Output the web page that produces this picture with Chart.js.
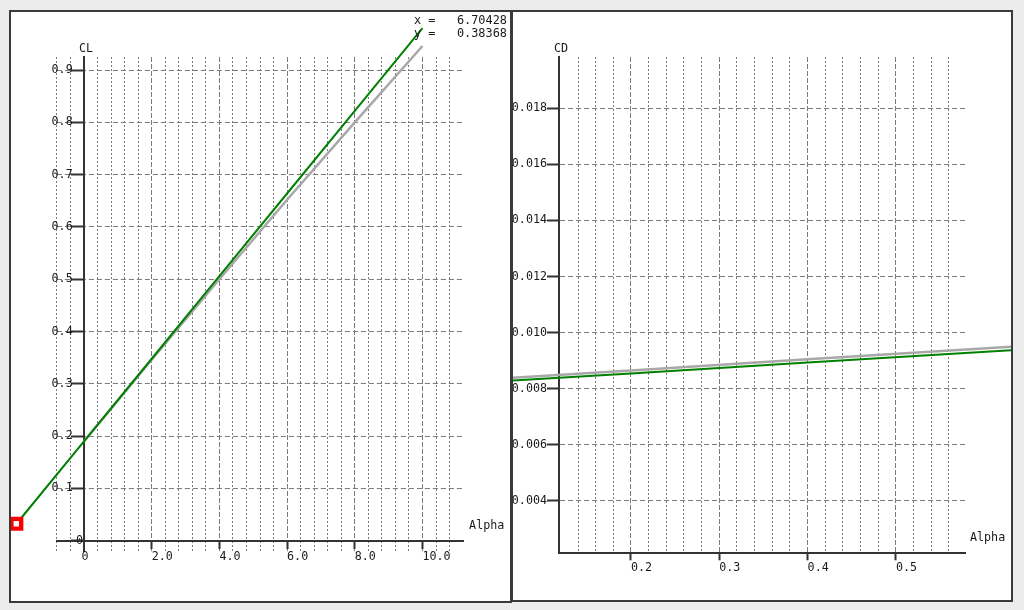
<!DOCTYPE html>
<html><head><meta charset="utf-8">
<script src="https://cdn.jsdelivr.net/npm/chart.js@4"></script>
<style>
html,body{margin:0;padding:0;background:#ececec;width:1024px;height:610px;overflow:hidden;}
.panel{position:absolute;box-sizing:border-box;border:2px solid #3a3a3a;background:#fff;overflow:hidden;}
#lp{left:9px;top:10px;width:503px;height:593px;}
#rp{left:511px;top:10px;width:502px;height:592px;}
canvas{position:absolute;left:0;top:0;}
</style></head><body>
<div class="panel" id="lp"><canvas id="cl" width="499" height="589"></canvas></div>
<div class="panel" id="rp"><canvas id="cd" width="498" height="588"></canvas></div>
<script>
// ---- data ----
const clAlpha   = [-2, 0, 2, 4, 6, 8, 10];
const clGreen   = [0.032, 0.19, 0.348, 0.506, 0.664, 0.822, 0.98];
const clAlphaB  = [0, 2, 4, 6, 8, 10];
const clGray    = [0.19, 0.346, 0.500, 0.652, 0.800, 0.946];
const markAlpha = [-2];
const markCL    = [0.0325];
const cdAlpha   = [0, 0.2, 0.4, 0.65];
const cdGreen   = [0.00816, 0.00854, 0.00893, 0.00941];
const cdGray    = [0.00826, 0.00865, 0.00905, 0.00953];
const clXMajor  = [0, 2, 4, 6, 8, 10];
const clXLabels = ['0', '2.0', '4.0', '6.0', '8.0', '10.0'];
const clYTicks  = [0, 0.1, 0.2, 0.3, 0.4, 0.5, 0.6, 0.7, 0.8, 0.9];
const clYLabels = ['0', '0.1', '0.2', '0.3', '0.4', '0.5', '0.6', '0.7', '0.8', '0.9'];
const cdXMajor  = [0.2, 0.3, 0.4, 0.5];
const cdXLabels = ['0.2', '0.3', '0.4', '0.5'];
const cdYTicks  = [0.004, 0.006, 0.008, 0.010, 0.012, 0.014, 0.016, 0.018];
const cdYLabels = ['0.004', '0.006', '0.008', '0.010', '0.012', '0.014', '0.016', '0.018'];
const readout   = ['x =   6.70428', 'y =   0.38368'];
const titles    = {clY: 'CL', cdY: 'CD', x: 'Alpha'};

// ---- style ----
const FONT = {family: 'DejaVu Sans Mono', size: 11.7};
const TXT = '#1a1a1a', AXIS = '#333333', GRID = '#7a7a7a', NONE = 'rgba(0,0,0,0)';
const GREEN = '#008000', GRAY = '#a8a8a8';
const idx = (v, arr, eps) => (v === null || v === undefined) ? -1 : arr.findIndex(a => Math.abs(a - v) < eps);
const tv = (c) => (c && c.tick) ? c.tick.value : null;
const pts = (xs, ys) => xs.map((a, i) => ({x: a, y: ys[i]}));

const overlayL = {
  id: 'overlayL',
  beforeDatasetsDraw(chart) {
    const {ctx, chartArea, scales: {x, y}} = chart;
    const x0 = x.getPixelForValue(0), y0 = y.getPixelForValue(0);
    ctx.save();
    ctx.font = '11.7px "DejaVu Sans Mono"';
    ctx.fillStyle = TXT;
    ctx.textBaseline = 'middle';
    ctx.textAlign = 'center';
    ctx.fillText(titles.clY, x0 + 2, chartArea.top - 8);
    ctx.fillText(clXLabels[0], x0 + 1, y0 + 16);
    ctx.textAlign = 'left';
    ctx.fillText(titles.x, chartArea.right + 6, y0 - 15);
    ctx.textAlign = 'right';
    ctx.fillText(clYLabels[0], x0 - 1, y0);
    ctx.restore();
  },
  afterDatasetsDraw(chart) {
    // the selection marker sits outside the chart area: draw the library's point element unclipped
    const el = chart.getDatasetMeta(0).data[0];
    if (el) el.draw(chart.ctx, {left: -1e4, top: -1e4, right: 1e4, bottom: 1e4});
  },
  afterDraw(chart) {
    const {ctx} = chart;
    ctx.save();
    ctx.font = '11.9px "DejaVu Sans Mono"';
    ctx.fillStyle = TXT;
    ctx.textBaseline = 'middle';
    ctx.textAlign = 'right';
    ctx.fillText(readout[0], chart.width - 3, 8.7);
    ctx.fillText(readout[1], chart.width - 3, 22.3);
    ctx.restore();
  }
};
const overlayR = {
  id: 'overlayR',
  beforeDatasetsDraw(chart) {
    const {ctx, chartArea} = chart;
    ctx.save();
    ctx.font = '11.7px "DejaVu Sans Mono"';
    ctx.fillStyle = TXT;
    ctx.textBaseline = 'middle';
    ctx.textAlign = 'center';
    ctx.fillText(titles.cdY, chartArea.left + 2, chartArea.top - 8);
    ctx.textAlign = 'left';
    ctx.fillText(titles.x, chartArea.right + 5, chartArea.bottom - 15.5);
    ctx.restore();
  }
};

const clYRange = {min: -0.02, max: 0.925};

new Chart(document.getElementById('cl'), {
  type: 'line',
  data: {datasets: [
    {data: pts(markAlpha, markCL), showLine: false, pointStyle: 'rect', pointRadius: 6.9,
     pointBorderWidth: 4.4, pointBorderColor: '#ff0000', pointBackgroundColor: '#ffffff', clip: false},
    {data: pts(clAlpha, clGreen), borderColor: GREEN, borderWidth: 2, pointRadius: 0, tension: 0, clip: false},
    {data: pts(clAlphaB, clGray), borderColor: GRAY, borderWidth: 2.5, pointRadius: 0, tension: 0, clip: false}
  ]},
  options: {
    responsive: false, animation: false, events: [],
    layout: {padding: {left: 45.9, right: 46.9, top: 45, bottom: 49.8}},
    plugins: {legend: {display: false}, tooltip: {enabled: false}},
    scales: {
      x: {
        type: 'linear', position: {y: 0}, min: -0.8, max: 11.2, bounds: 'ticks',
        ticks: {stepSize: 0.4, includeBounds: false, autoSkip: false, maxRotation: 0, minRotation: 0,
          align: 'start', padding: 2, font: FONT, color: TXT,
          callback: (v) => { const i = idx(v, clXMajor, 1e-6); return (i > 0) ? clXLabels[i] : ''; }},
        grid: {lineWidth: 1, tickLength: 7, tickWidth: 2,
          color: (c) => { const v = tv(c); if (v === null) return GRID; return (Math.abs(v) < 1e-6 || v > 11.1) ? NONE : GRID; },
          tickColor: (c) => { const i = idx(tv(c), clXMajor, 1e-6); return i > 0 ? AXIS : NONE; }},
        border: {display: true, color: AXIS, width: 2,
          dash: (c) => idx(tv(c), clXMajor, 1e-6) >= 0 ? [5, 2] : [2, 2]}
      },
      y: {
        type: 'linear', position: {x: 0}, min: clYRange.min, max: clYRange.max, bounds: 'ticks',
        ticks: {display: false, stepSize: 0.1, includeBounds: false, autoSkip: false},
        grid: {lineWidth: 1, tickLength: 12, tickWidth: 2,
          color: (c) => { const v = tv(c); return (v !== null && Math.abs(v) < 1e-6) ? NONE : GRID; },
          tickColor: AXIS},
        border: {display: true, color: AXIS, width: 2, dash: [5, 3]}
      },
      yl: {
        type: 'linear', axis: 'y', position: {x: -0.334}, min: clYRange.min, max: clYRange.max, bounds: 'ticks',
        ticks: {stepSize: 0.1, includeBounds: false, autoSkip: false, padding: 0, font: FONT, color: TXT,
          callback: (v) => { const i = idx(v, clYTicks, 1e-6); return (i > 0) ? clYLabels[i] : ''; }},
        grid: {display: false},
        border: {display: false}
      }
    }
  },
  plugins: [overlayL]
});

new Chart(document.getElementById('cd'), {
  type: 'line',
  data: {datasets: [
    {data: pts(cdAlpha, cdGreen), borderColor: GREEN, borderWidth: 2, pointRadius: 0, tension: 0, clip: false},
    {data: pts(cdAlpha, cdGray), borderColor: GRAY, borderWidth: 2.5, pointRadius: 0, tension: 0, clip: false}
  ]},
  options: {
    responsive: false, animation: false, events: [],
    layout: {padding: {left: 0, right: 46, top: 45, bottom: 16.7}},
    plugins: {legend: {display: false}, tooltip: {enabled: false}},
    scales: {
      x: {
        type: 'linear', position: 'bottom', min: 0.11846, max: 0.57826, bounds: 'ticks',
        afterFit: (s) => { s.height = 30; },
        ticks: {stepSize: 0.02, includeBounds: false, autoSkip: false, maxRotation: 0, minRotation: 0,
          align: 'start', padding: 1, font: FONT, color: TXT,
          callback: (v) => { const i = idx(v, cdXMajor, 1e-6); return i >= 0 ? cdXLabels[i] : ''; }},
        grid: {lineWidth: 1, tickLength: 7, tickWidth: 2,
          color: (c) => { const v = tv(c); return (v !== null && v < 0.13) ? NONE : GRID; },
          tickColor: (c) => idx(tv(c), cdXMajor, 1e-6) >= 0 ? AXIS : NONE},
        border: {display: true, color: AXIS, width: 2,
          dash: (c) => idx(tv(c), cdXMajor, 1e-6) >= 0 ? [5, 2] : [2, 2]}
      },
      y: {
        type: 'linear', position: 'left', min: 0.0021245, max: 0.01983, bounds: 'ticks',
        afterFit: (s) => { s.width = 46; },
        ticks: {stepSize: 0.002, includeBounds: false, autoSkip: false, padding: 0, font: FONT, color: TXT,
          callback: (v) => { const i = idx(v, cdYTicks, 1e-7); return i >= 0 ? cdYLabels[i] : ''; }},
        grid: {lineWidth: 1, tickLength: 12, tickWidth: 2, color: GRID, tickColor: AXIS},
        border: {display: true, color: AXIS, width: 2, dash: [5, 3]}
      }
    }
  },
  plugins: [overlayR]
});
</script>
</body></html>
